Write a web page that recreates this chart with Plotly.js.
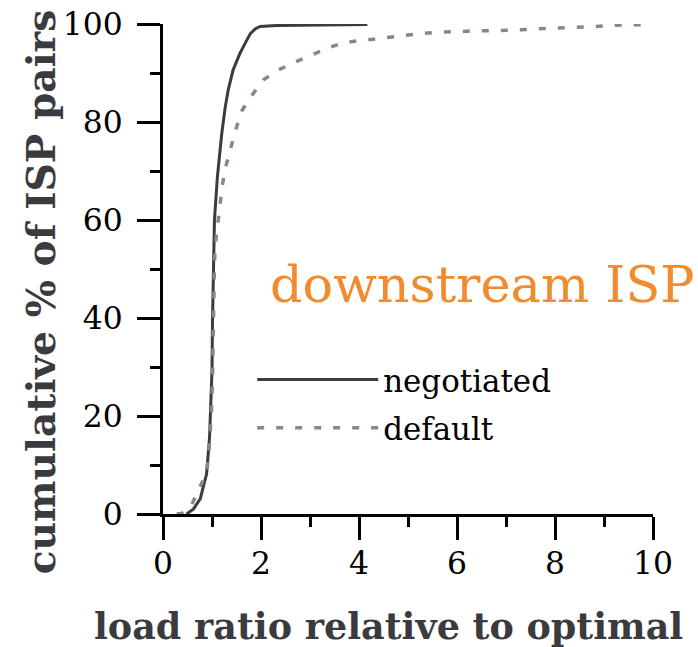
<!DOCTYPE html>
<html>
<head>
<meta charset="utf-8">
<script src="https://cdn.plot.ly/plotly-3.0.1.min.js"></script>
<style>
  html, body { margin: 0; padding: 0; background: #ffffff; }
  #chart { width: 698px; height: 647px; }
</style>
</head>
<body>
<div id="chart"></div>
<script>
// load ratio relative to optimal (x) vs cumulative % of ISP pairs (y)
const negotiatedX = [0.48, 0.62, 0.76, 0.89, 0.95, 0.98, 1.00, 1.01, 1.02, 1.03, 1.05, 1.11, 1.20, 1.27, 1.33, 1.43, 1.57, 1.70, 1.78, 1.88, 1.98, 2.32, 3.20, 4.17];
const negotiatedY = [0, 1.0, 3.1, 8.2, 15.7, 22.5, 29.3, 39.5, 46.4, 53.2, 60, 68.8, 77.7, 83, 86.5, 90.6, 94, 96.5, 98, 99, 99.5, 99.7, 99.8, 99.9];

const defaultX = [0.28, 0.38, 0.59, 0.76, 0.88, 0.93, 0.96, 0.99, 1.01, 1.02, 1.02, 1.03, 1.05, 1.07, 1.11, 1.15, 1.21, 1.27, 1.37, 1.49, 1.61, 1.78, 2.05, 2.35, 2.69, 3.03, 3.34, 3.68, 4.08, 4.46, 4.84, 5.22, 5.62, 5.99, 6.39, 6.78, 7.15, 7.54, 7.93, 8.31, 8.70, 9.09, 9.46, 9.95];
const defaultY = [0, 0.1, 2, 5.5, 8.2, 11.6, 15.7, 21, 27.3, 32.7, 39.5, 46.4, 51.1, 55.2, 59, 62.4, 67, 70.5, 74.5, 78.6, 82.3, 85, 88.6, 90.6, 92.2, 93.7, 95, 96.2, 96.7, 97.2, 97.6, 98.0, 98.3, 98.5, 98.6, 98.6, 98.8, 99.0, 99.1, 99.3, 99.4, 99.7, 99.8, 99.9];

const seriesNames = ["negotiated", "default"];
const xTickVals = [0, 2, 4, 6, 8, 10];
const yTickVals = [0, 20, 40, 60, 80, 100];
const xTitle = "load ratio relative to optimal";
const yTitle = "cumulative % of ISP pairs";
const panelLabel = "downstream ISP";

// ---- serif font, sized so each text spans about the width it has in the reference ----
const fam = "DejaVu Serif";
const family = fam + ", serif";
const ctx = document.createElement("canvas").getContext("2d");
function fit(text, weight, target, maxSize) {
  ctx.font = weight + " 100px '" + fam + "', serif";
  const w = ctx.measureText(text).width;
  return Math.min(maxSize, Math.round(1000 * target / w) / 10);
}
const xTitleSize = fit(xTitle, "bold", 590, 48);
const yTitleSize = fit(yTitle, "bold", 565, 50);
const panelSize = fit(panelLabel, "normal", 425, 63);
const legendSize = fit(seriesNames[0], "normal", 168, 40);
const tickSize = fit("100", "normal", 60, 38);

const traces = [
  {
    x: negotiatedX, y: negotiatedY, name: seriesNames[0],
    type: "scatter", mode: "lines", legendgroup: "g1",
    line: { color: "#3b3b40", width: 3 }
  },
  {
    x: defaultX, y: defaultY, name: seriesNames[1],
    type: "scatter", mode: "lines", legendgroup: "g2",
    line: { color: "#8e8484", width: 3.5, dash: "7px,12px" }
  }
];

const axisCommon = {
  showgrid: false, zeroline: false,
  showline: true, linecolor: "#000000", linewidth: 3,
  ticks: "outside", ticklen: 23, tickwidth: 3, tickcolor: "#000000",
  tickfont: { family: family, size: tickSize, color: "#000000" },
  fixedrange: true
};

const plotTop = 24, plotH = 490;
function paperY(px) { return (plotTop + plotH - px) / plotH; }
const legendTop = 380 - (0.65 * legendSize + 7);

const layout = {
  width: 698, height: 647,
  margin: { l: 163, r: 45, t: 24, b: 133, pad: 0 },
  paper_bgcolor: "#ffffff", plot_bgcolor: "#ffffff",
  font: { family: family },
  showlegend: true,
  legend: {
    x: 0.182, y: paperY(legendTop), xanchor: "left", yanchor: "top",
    bgcolor: "rgba(0,0,0,0)", borderwidth: 0,
    font: { family: family, size: legendSize, color: "#000000" },
    itemwidth: 121, traceorder: "grouped", tracegroupgap: 5
  },
  xaxis: Object.assign({}, axisCommon, {
    range: [0, 10], tickvals: xTickVals, ticklabelstandoff: -4,
    minor: { ticks: "outside", ticklen: 10, tickwidth: 3, tickcolor: "#000000", dtick: 1, showgrid: false }
  }),
  yaxis: Object.assign({}, axisCommon, {
    range: [0, 100], tickvals: yTickVals, ticksuffix: "\u00a0", ticklabelstandoff: 8,
    minor: { ticks: "outside", ticklen: 10, tickwidth: 3, tickcolor: "#000000", dtick: 10, showgrid: false }
  }),
  annotations: [
    {
      text: panelLabel, xref: "paper", yref: "paper",
      x: 0.653, y: paperY(300 - 0.3 * panelSize), xanchor: "center", yanchor: "middle",
      showarrow: false,
      font: { family: family, size: panelSize, color: "#f28a2e" }
    },
    {
      text: "<b>" + xTitle + "</b>", xref: "paper", yref: "paper",
      x: 0.461, y: paperY(637 - 0.3 * xTitleSize), xanchor: "center", yanchor: "middle",
      showarrow: false,
      font: { family: family, size: xTitleSize, color: "#3a3a3f" }
    },
    {
      text: "<b>" + yTitle + "</b>", xref: "paper", yref: "paper",
      x: (53 - 0.3 * yTitleSize - 163) / 490, y: paperY(292), xanchor: "center", yanchor: "middle",
      textangle: -90, showarrow: false,
      font: { family: family, size: yTitleSize, color: "#3a3a3f" }
    }
  ]
};

Plotly.newPlot("chart", traces, layout, { displayModeBar: false, staticPlot: true });
</script>
</body>
</html>
